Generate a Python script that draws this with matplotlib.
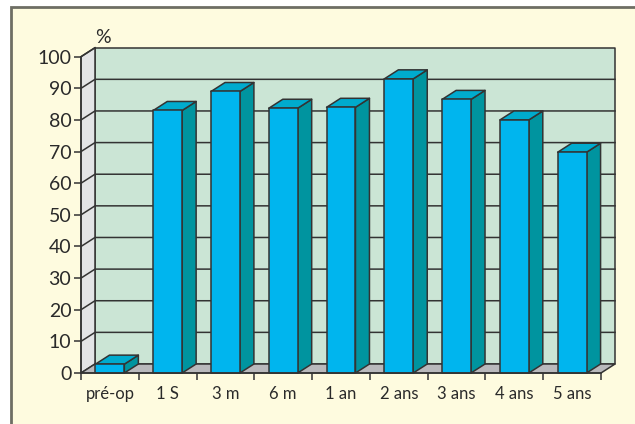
import matplotlib
matplotlib.use("Agg")
import matplotlib.pyplot as plt
from matplotlib.patches import Polygon, Rectangle

categories = ["pré-op", "1 S", "3 m", "6 m", "1 an", "2 ans", "3 ans", "4 ans", "5 ans"]
values = [2.8, 83, 89, 83.7, 84, 93, 86.5, 80, 69.8]
y_ticks = list(range(0, 101, 10))

W, H = 635, 424
edge = "#333333"
lw = 1.1
bar_width = 0.5

plt.rcParams["font.family"] = ["Lato", "DejaVu Sans"]

fig = plt.figure(figsize=(W / 100, H / 100), dpi=100, facecolor="white")

# cadre de fond
bg = fig.add_axes([0, 0, 1, 1])
bg.set_xlim(0, W)
bg.set_ylim(H, 0)
bg.axis("off")
bg.add_patch(Rectangle((11, 7), W + 20, H + 20, facecolor="#FEFBDF", edgecolor="#6E6E64", linewidth=2))

ax = fig.add_axes([81 / W, 1 - 373 / H, 520 / W, (373 - 56.7) / H])
ax.patch.set_visible(False)
ax.set_xlim(0, len(categories))
ax.set_ylim(0, 100)

# profondeur 3D, en unites des axes
dx = 14 / (520 / len(categories))
dy = 9 / ((373 - 56.7) / 100)
n = len(categories)


def poly(points, color, z=1):
    ax.add_patch(Polygon(points, closed=True, facecolor=color, edgecolor=edge,
                         linewidth=lw, clip_on=False, zorder=z, joinstyle="round"))


# murs et sol
poly([(dx, dy), (n + dx, dy), (n + dx, 100 + dy), (dx, 100 + dy)], "#CBE5D5")
poly([(0, 0), (dx, dy), (dx, 100 + dy), (0, 100)], "#E3E4E6")
poly([(0, 0), (n, 0), (n + dx, dy), (dx, dy)], "#B9B9BC")

# grille
for t in y_ticks[1:-1]:
    ax.plot([0, dx, n + dx], [t, t + dy, t + dy], color=edge, lw=lw, clip_on=False, zorder=2,
            solid_joinstyle="round")
ax.plot([0, dx], [100, 100 + dy], color=edge, lw=lw, clip_on=False, zorder=2)

# barres
for i, v in enumerate(values):
    left = i + dx + 0.008
    right = left + bar_width
    poly([(right, 0), (right + dx, dy), (right + dx, v + dy), (right, v)], "#00949F", 3)
    poly([(left, v), (right, v), (right + dx, v + dy), (left + dx, v + dy)], "#00ABCE", 3)
    poly([(left, 0), (right, 0), (right, v), (left, v)], "#00B5EE", 3)

for s in ["top", "right"]:
    ax.spines[s].set_visible(False)
ax.spines["left"].set_color(edge)
ax.spines["bottom"].set_color(edge)
ax.spines["left"].set_linewidth(lw)
ax.spines["bottom"].set_linewidth(lw)
ax.spines["left"].set_zorder(4)
ax.spines["bottom"].set_zorder(4)

ax.set_yticks(y_ticks)
ax.set_xticks(range(n + 1))
ax.set_xticklabels([])
ax.set_xticks([i + 0.5 for i in range(n)], categories, minor=True)
ax.tick_params(axis="y", length=5, width=lw, color=edge, labelsize=14, labelcolor="#2A2A2A", pad=2)
ax.tick_params(axis="x", which="major", length=5, width=lw, color=edge)
ax.tick_params(axis="x", which="minor", length=0, labelsize=12, labelcolor="#2A2A2A", pad=9.5)

ax.text(0.38, 100.5 + dy, "%", fontsize=14, color="#2A2A2A", ha="center", va="bottom")

fig.savefig("out.png", dpi=100, facecolor=fig.get_facecolor())
